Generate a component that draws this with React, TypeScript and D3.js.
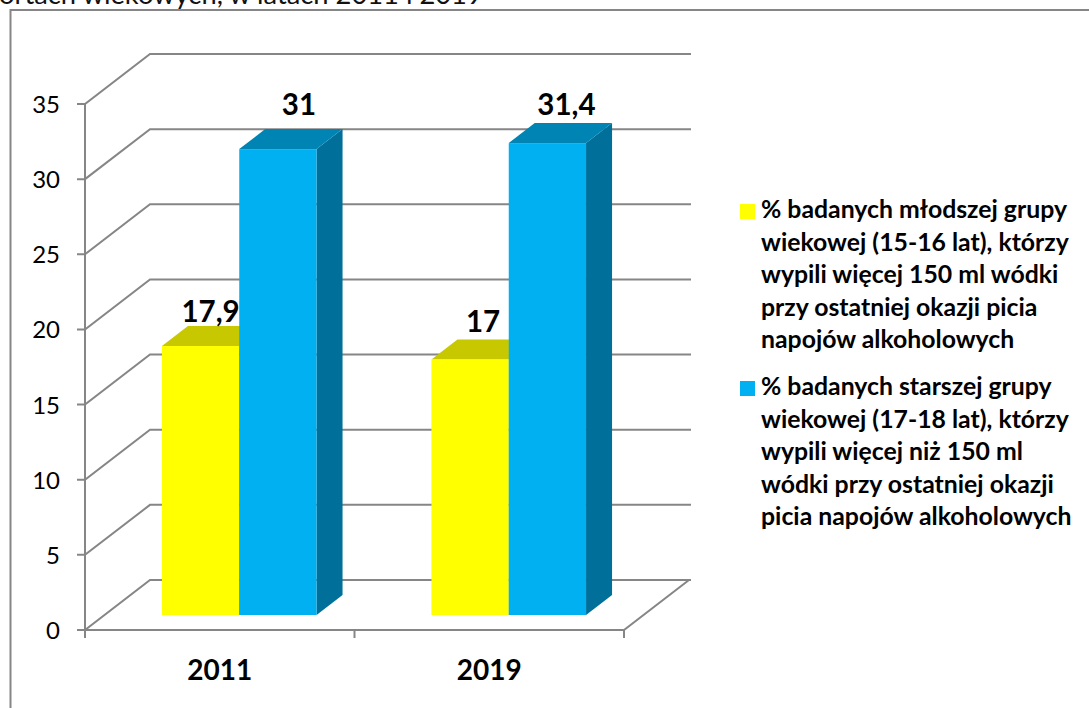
import React from "react";
import * as d3 from "d3";

const categories = ["2011", "2019"];
const youngValues = [17.9, 17];
const olderValues = [31, 31.4];
const valueLabels = [["17,9", "17"], ["31", "31,4"]];
const yTicks = [0, 5, 10, 15, 20, 25, 30, 35];
const legendYoung = ["% badanych młodszej grupy", "wiekowej (15-16 lat), którzy", "wypili więcej 150 ml wódki", "przy ostatniej okazji picia", "napojów alkoholowych"];
const legendOlder = ["% badanych starszej grupy", "wiekowej (17-18 lat), którzy", "wypili więcej niż 150 ml", "wódki przy ostatniej okazji", "picia napojów alkoholowych"];
const titleText = "ortach wiekowych, w latach 2011 i 2019";

const GRID = "#868686";
const FONT = "Lato, Carlito, 'Open Sans', sans-serif";
const depthX = 65;
const depthY = -50;
const labelDx = [[10, 13], [21, 19]];
const labelDy = [[-24, -28], [-34, -28]];

export default function App() {
  const y = d3.scaleLinear().domain([0, 35]).range([630, 104]);
  const x0 = d3.scaleBand().domain(categories).range([85, 624]);
  const series = [
    { values: youngValues, front: "#FFFF00", top: "#C8C800", side: "#A8A800" },
    { values: olderValues, front: "#00B0F0", top: "#0084B4", side: "#006F9A" },
  ];
  const barW = 77.3;
  const dStart = 0.3;
  const dBar = 0.4;
  return (
    <svg width={1089} height={708} style={{ position: "absolute", left: 0, top: 0, background: "#fff" }}>
      <text x={-1} y={4} fontFamily={FONT} fontSize={27.3} fill="#111">{titleText}</text>
      <path d="M1089,10H10.5V708" fill="none" stroke={GRID} strokeWidth={2} />
      {yTicks.map((t) => (
        <g key={t}>
          <path d={`M77,${y(t)}H85L${85 + depthX},${y(t) + depthY}H${85 + 539 + depthX + 2}`} fill="none" stroke={GRID} strokeWidth={2} />
          <text x={60} y={y(t) + 9} textAnchor="end" fontFamily={FONT} fontSize={24} fill="#000">{t}</text>
        </g>
      ))}
      <path d={`M85,${y(35)}V638`} stroke={GRID} strokeWidth={2} fill="none" />
      <path d={`M85,630H624L${624 + depthX},${630 + depthY}`} stroke={GRID} strokeWidth={2} fill="none" />
      {[85, 354.5, 624].map((v) => (
        <path key={v} d={`M${v},630V638`} stroke={GRID} strokeWidth={2} />
      ))}
      {categories.map((c, i) => {
        const gap = (x0.bandwidth() - 2 * barW) / 2;
        return (
          <g key={c}>
            {series.map((s, k) => {
              const l = (x0(c) as number) + gap + k * barW + depthX * dStart;
              const base = y(0) + depthY * dStart;
              const top = base - (y(0) - y(s.values[i]));
              const dx = depthX * dBar;
              const dy = depthY * dBar;
              return (
                <g key={k}>
                  <path d={`M${l + barW},${base}L${l + barW + dx},${base + dy}V${top + dy}L${l + barW},${top}Z`} fill={s.side} />
                  <path d={`M${l},${top}L${l + dx},${top + dy}H${l + barW + dx}L${l + barW},${top}Z`} fill={s.top} />
                  <rect x={l} y={top} width={barW} height={base - top} fill={s.front} />
                </g>
              );
            })}
            {series.map((s, k) => {
              const l = (x0(c) as number) + gap + k * barW + depthX * dStart;
              const top = y(0) + depthY * dStart - (y(0) - y(s.values[i]));
              return (
                <text key={k} x={l + barW / 2 + labelDx[k][i]} y={top + labelDy[k][i]} textAnchor="middle" fontFamily={FONT} fontWeight={700} fontSize={29.5} fill="#000">
                  {valueLabels[k][i]}
                </text>
              );
            })}
            <text x={(x0(c) as number) + x0.bandwidth() / 2} y={680} textAnchor="middle" fontFamily={FONT} fontWeight={700} fontSize={28} fill="#000">{c}</text>
          </g>
        );
      })}
      <rect x={740} y={204} width={15} height={15} fill="#FFFF00" />
      {legendYoung.map((t, i) => (
        <text key={t} x={761} y={218.3 + i * 32.5} fontFamily={FONT} fontWeight={700} fontSize={24.8} fill="#000">{t}</text>
      ))}
      <rect x={740} y={381} width={15} height={15} fill="#00B0F0" />
      {legendOlder.map((t, i) => (
        <text key={t} x={761} y={395 + i * 32.5} fontFamily={FONT} fontWeight={700} fontSize={24.8} fill="#000">{t}</text>
      ))}
    </svg>
  );
}
